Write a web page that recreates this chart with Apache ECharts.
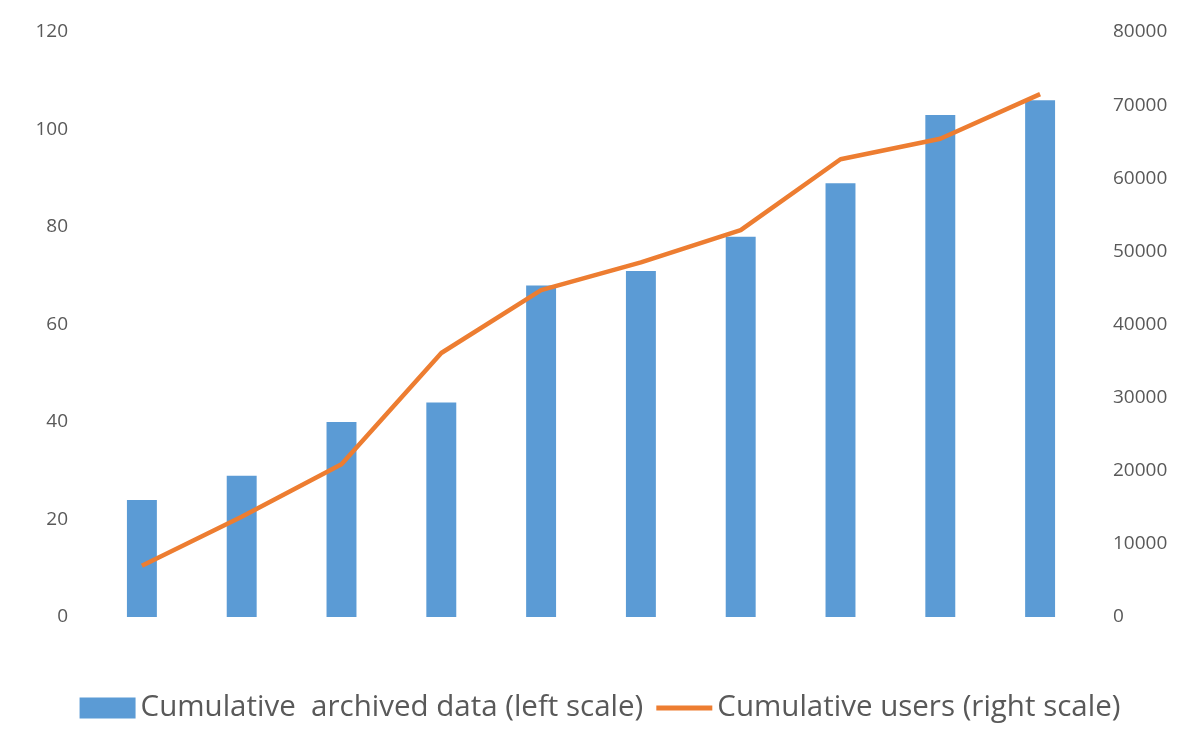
<!DOCTYPE html>
<html>
<head>
<meta charset="utf-8">
<script src="https://cdn.jsdelivr.net/npm/echarts@6/dist/echarts.min.js"></script>
<style>
  html, body { margin: 0; padding: 0; background: #fff; }
  #chart { width: 1200px; height: 750px; }
</style>
</head>
<body>
<div id="chart"></div>
<script>
// 数据
const categories = ['1', '2', '3', '4', '5', '6', '7', '8', '9', '10'];
const archivedData = [24, 29, 40, 44, 68, 71, 78, 89, 103, 106];
const cumulativeUsers = [7000, 13700, 20900, 36100, 44700, 48500, 52900, 62600, 65400, 71500];

const BAR_NAME = 'Cumulative  archived data (left scale)';
const LINE_NAME = 'Cumulative users (right scale)';

const chart = echarts.init(document.getElementById('chart'));
chart.setOption({
  animation: false,
  textStyle: { fontFamily: 'Open Sans' },
  grid: { left: 92, right: 110, top: 32, bottom: 133 },
  legend: {
    top: 688,
    left: 'center',
    itemGap: 13,
    itemWidth: 56,
    itemHeight: 21,
    textStyle: { fontSize: 29.5, color: '#595959' },
    data: [
      { name: BAR_NAME, icon: 'rect' },
      { name: LINE_NAME, icon: 'path://M0,0h58v5H0z' }
    ]
  },
  xAxis: {
    type: 'category',
    data: categories,
    axisLine: { show: false },
    axisTick: { show: false },
    axisLabel: { show: false }
  },
  yAxis: [
    {
      type: 'value', min: 0, max: 120, interval: 20,
      axisLine: { show: false }, axisTick: { show: false }, splitLine: { show: false },
      axisLabel: { fontSize: 19, color: '#595959', margin: 24 }
    },
    {
      type: 'value', min: 0, max: 80000, interval: 10000,
      axisLine: { show: false }, axisTick: { show: false }, splitLine: { show: false },
      axisLabel: { fontSize: 19, color: '#595959', margin: 23, formatter: v => String(v) }
    }
  ],
  series: [
    {
      name: BAR_NAME,
      type: 'bar',
      data: archivedData,
      barWidth: '30%',
      itemStyle: { color: '#5B9BD5' }
    },
    {
      name: LINE_NAME,
      type: 'line',
      yAxisIndex: 1,
      data: cumulativeUsers,
      symbol: 'none',
      lineStyle: { color: '#ED7D31', width: 4.5 },
      itemStyle: { color: '#ED7D31' }
    }
  ]
});
</script>
</body>
</html>
